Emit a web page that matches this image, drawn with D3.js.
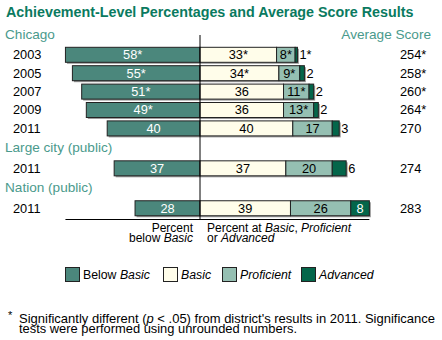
<!DOCTYPE html>
<html><head><meta charset="utf-8">
<script src="https://cdn.jsdelivr.net/npm/d3@7"></script>
<style>body{margin:0;background:#fff;}svg{display:block;font-family:"Liberation Sans",Arial,sans-serif;}</style>
</head><body>
<script>
const groups = ["Chicago", "Large city (public)", "Nation (public)"];
const rowGroup = [0, 0, 0, 0, 0, 1, 2];
const years = ["2003", "2005", "2007", "2009", "2011", "2011", "2011"];
const belowBasic = [58, 55, 51, 49, 40, 37, 28];
const basic = [33, 34, 36, 36, 40, 37, 39];
const proficient = [8, 9, 11, 13, 17, 20, 26];
const advanced = [1, 2, 2, 2, 3, 6, 8];
const belowBasicSig = [true, true, true, true, false, false, false];
const basicSig = [true, true, false, false, false, false, false];
const proficientSig = [true, true, true, true, false, false, false];
const advancedSig = [true, false, false, false, false, false, false];
const scores = [254, 258, 260, 264, 270, 274, 283];
const scoreSig = [true, true, true, true, false, false, false];
const levels = ["Below Basic", "Basic", "Proficient", "Advanced"];

const W = 442, H = 340;
const colors = {"Below Basic": "#4b877c", "Basic": "#fffdea", "Proficient": "#95bfb2", "Advanced": "#04664a"};
const teal = "#4a9a8c";

const svg = d3.select("body").append("svg").attr("width", W).attr("height", H);

const x = d3.scaleLinear().domain([-60, 80]).range([200 - 60 * 2.32, 200 + 80 * 2.32]);
const slot = (i) => i + rowGroup[i] * 1.17;
const y = d3.scaleLinear().domain([0, 1]).range([47.3, 65.7]);
const bh = 15;

// title
svg.append("text").attr("x", 6).attr("y", 17).attr("fill", "#0a7a60")
  .attr("font-weight", "bold").attr("font-size", 14.3).text("Achievement-Level Percentages and Average Score Results");

// group labels
const groupFirst = groups.map((g, gi) => rowGroup.indexOf(gi));
svg.selectAll(".glab").data(groups).join("text")
  .attr("x", 5).attr("y", (d, gi) => y(slot(groupFirst[gi])) - 8.5)
  .attr("fill", teal).attr("font-size", 13.6).text(d => d);
svg.append("text").attr("x", 431).attr("y", y(0) - 8.5).attr("text-anchor", "end")
  .attr("fill", teal).attr("font-size", 13.6).text("Average Score");

const rows = years.map((yr, i) => ({i, yr}));

svg.selectAll(".yr").data(rows).join("text")
  .attr("x", 13).attr("y", d => y(slot(d.i)) + bh / 2 + 4.3)
  .attr("font-size", 12.8).attr("fill", "#000").text(d => d.yr);

svg.selectAll(".sc").data(rows).join("text")
  .attr("x", 400).attr("y", d => y(slot(d.i)) + bh / 2 + 4.3)
  .attr("font-size", 12.8).attr("fill", "#000").text(d => scores[d.i] + (scoreSig[d.i] ? "*" : ""));

const segs = [];
rows.forEach(r => {
  const i = r.i;
  segs.push({i, lvl: "Below Basic", x0: -belowBasic[i], x1: 0, v: belowBasic[i], sig: belowBasicSig[i]});
  let c = 0;
  [["Basic", basic, basicSig], ["Proficient", proficient, proficientSig], ["Advanced", advanced, advancedSig]].forEach(([l, arr, sg]) => {
    segs.push({i, lvl: l, x0: c, x1: c + arr[i], v: arr[i], sig: sg[i]});
    c += arr[i];
  });
});

rows.forEach(r => {
  const i = r.i;
  const x0 = x(-belowBasic[i]), x1 = x(basic[i] + proficient[i] + advanced[i]);
  svg.append("rect").attr("x", x0 + 1.5).attr("y", y(slot(i)) + 1.5).attr("width", x1 - x0).attr("height", bh)
    .attr("fill", "#9a9a9a");
});

svg.selectAll(".seg").data(segs).join("rect")
  .attr("x", d => x(d.x0)).attr("y", d => y(slot(d.i)))
  .attr("width", d => x(d.x1) - x(d.x0)).attr("height", bh)
  .attr("fill", d => colors[d.lvl]).attr("stroke", "#222").attr("stroke-width", 1);

svg.selectAll(".seglab").data(segs).join("text")
  .attr("x", d => (x(d.x1) - x(d.x0)) < 14 ? x(d.x1) + 2 : (x(d.x0) + x(d.x1)) / 2)
  .attr("text-anchor", d => (x(d.x1) - x(d.x0)) < 14 ? "start" : "middle")
  .attr("y", d => y(slot(d.i)) + bh / 2 + 4.3)
  .attr("font-size", 12.8)
  .attr("fill", d => ((x(d.x1) - x(d.x0)) >= 14 && (d.lvl === "Below Basic" || d.lvl === "Advanced")) ? "#fff" : "#000")
  .text(d => d.v + (d.sig ? "*" : ""));

svg.append("line").attr("x1", x(0)).attr("x2", x(0)).attr("y1", 35).attr("y2", 220)
  .attr("stroke", "#000").attr("stroke-width", 1);
svg.append("line").attr("x1", x(-58)).attr("x2", x(73)).attr("y1", 219.5).attr("y2", 219.5)
  .attr("stroke", "#000").attr("stroke-width", 1);

// axis labels
const al = svg.append("g").attr("font-size", 12).attr("fill", "#000");
al.append("text").attr("x", 193).attr("y", 231.5).attr("text-anchor", "end").text("Percent");
const t2 = al.append("text").attr("x", 193).attr("y", 241.5).attr("text-anchor", "end");
t2.append("tspan").text("below ");
t2.append("tspan").attr("font-style", "italic").text("Basic");
const t3 = al.append("text").attr("x", 207).attr("y", 231.5);
t3.append("tspan").text("Percent at ");
t3.append("tspan").attr("font-style", "italic").text("Basic");
t3.append("tspan").text(", ");
t3.append("tspan").attr("font-style", "italic").text("Proficient");
const t4 = al.append("text").attr("x", 207).attr("y", 241.5);
t4.append("tspan").text("or ");
t4.append("tspan").attr("font-style", "italic").text("Advanced");

// legend
const legX = [65.5, 163.5, 222.5, 301.5];
const lg = svg.selectAll(".lg").data(levels).join("g").attr("transform", (d, k) => `translate(${legX[k]},267.5)`);
lg.append("rect").attr("width", 14).attr("height", 14).attr("fill", d => colors[d]).attr("stroke", "#222");
lg.each(function(d) {
  const t = d3.select(this).append("text").attr("x", 17.5).attr("y", 11.5).attr("font-size", 12.3);
  if (d === "Below Basic") { t.append("tspan").text("Below "); t.append("tspan").attr("font-style", "italic").text("Basic"); }
  else t.append("tspan").attr("font-style", "italic").text(d);
});

// footnote
const fn = svg.append("g").attr("font-size", 13).attr("fill", "#000");
fn.append("text").attr("x", 8).attr("y", 319).attr("font-size", 11).text("*");
const f1 = fn.append("text").attr("x", 19).attr("y", 322.5).attr("textLength", 416).attr("lengthAdjust", "spacingAndGlyphs");
f1.append("tspan").text("Significantly different (");
f1.append("tspan").attr("font-style", "italic").text("p");
f1.append("tspan").text(" < .05) from district's results in 2011. Significance");
fn.append("text").attr("x", 19).attr("y", 332.5).attr("textLength", 278).attr("lengthAdjust", "spacingAndGlyphs")
  .text("tests were performed using unrounded numbers.");
</script>
</body></html>
